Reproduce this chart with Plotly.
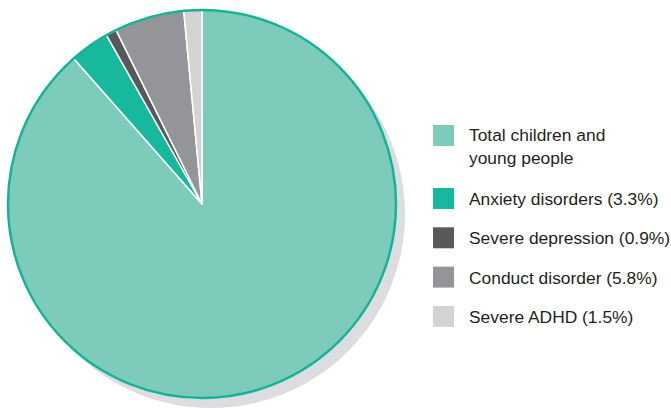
import plotly.graph_objects as go

# ---- data ----
labels = ["Total children and young people", "Anxiety disorders (3.3%)",
          "Severe depression (0.9%)", "Conduct disorder (5.8%)", "Severe ADHD (1.5%)"]
legend_text = ["Total children and<br>young people", "Anxiety disorders (3.3%)",
               "Severe depression (0.9%)", "Conduct disorder (5.8%)", "Severe ADHD (1.5%)"]
values = [88.5, 3.3, 0.9, 5.8, 1.5]
colors = ["#7ccbbb", "#17b99d", "#58595b", "#939598", "#d1d3d4"]

W, H = 671, 408
cx, cy, r = 202, 204, 194
sh_dx, sh_dy = 9, 10

def px(x):
    return x / W

def py(y):
    return 1 - y / H

fig = go.Figure()
fig.add_trace(go.Pie(
    labels=labels, values=values, sort=False, direction="clockwise", rotation=0,
    marker=dict(colors=colors, line=dict(color="white", width=1.5)),
    textinfo="none", hoverinfo="label+value", showlegend=False,
    domain=dict(x=[px(cx - r), px(cx + r)], y=[py(cy + r), py(cy - r)]),
))

shapes = []
# shadow
shapes.append(dict(type="circle", xref="paper", yref="paper", layer="below",
                   x0=px(cx - r + sh_dx), x1=px(cx + r + sh_dx),
                   y0=py(cy + r + sh_dy), y1=py(cy - r + sh_dy),
                   fillcolor="#dcdde0", line=dict(width=0)))
# outer border
shapes.append(dict(type="circle", xref="paper", yref="paper", layer="above",
                   x0=px(cx - r), x1=px(cx + r), y0=py(cy + r), y1=py(cy - r),
                   line=dict(color="#14b397", width=2.5)))

annotations = []
sq_x0, sq = 433, 21
text_x = 467
tops = [125] + [188 + 39.3 * (i - 1) for i in range(1, len(labels))]
for i, (t, c) in enumerate(zip(legend_text, colors)):
    top = tops[i]
    shapes.append(dict(type="rect", xref="paper", yref="paper",
                       x0=px(sq_x0), x1=px(sq_x0 + sq), y0=py(top + sq), y1=py(top),
                       fillcolor=c, line=dict(width=0)))
    if i == 0:
        yc = top + 21
    else:
        yc = top + sq / 2 + 0.5
    annotations.append(dict(xref="paper", yref="paper", x=px(text_x), y=py(yc),
                            xanchor="left", yanchor="middle", align="left",
                            text=t, showarrow=False,
                            font=dict(family="Liberation Sans, Arial, sans-serif",
                                      size=17.4, color="#231f20")))

fig.update_layout(width=W, height=H, margin=dict(l=0, r=0, t=0, b=0),
                  paper_bgcolor="white", plot_bgcolor="white",
                  shapes=shapes, annotations=annotations, showlegend=False)
fig.write_html("out.html")
